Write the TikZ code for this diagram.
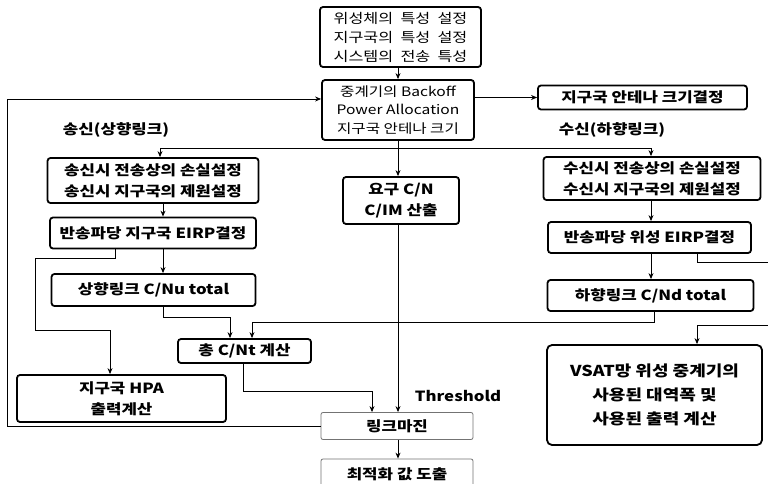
\documentclass[tikz,border=0pt]{standalone}
\usepackage{fontspec}
\setmainfont{Noto Sans CJK KR}[FakeStretch=1.2]
\usetikzlibrary{arrows.meta}
\tikzset{
  box/.style={draw=black, line width=1.8pt, rounded corners=3pt, inner sep=0pt, align=center, font=\fontsize{14}{21}\selectfont\bfseries},
  softbox/.style={draw=black!55, line width=0.8pt, rounded corners=2pt, inner sep=0pt, align=center, font=\fontsize{14}{21}\selectfont\bfseries},
  lbl/.style={inner sep=0pt, font=\fontsize{14}{16}\selectfont\bfseries},
  arr/.style={draw=black, line width=0.9pt, -{Stealth[length=6pt,width=5pt]}},
  ln/.style={draw=black, line width=0.9pt}
}
\begin{document}
\begin{tikzpicture}[x=1pt,y=-1pt]
\useasboundingbox[fill=white] (0,0) rectangle (768,484);
% boxes
\node[box, minimum width=161pt, minimum height=60pt, font=\fontsize{13.5}{19}\selectfont] (top) at (400.5,37) {위성체의\ \ 특성\ \ 설정\\지구국의\ \ 특성\ \ 설정\\시스템의\ \ 전송\ \ 특성};
\node[box, minimum width=152pt, minimum height=60pt, font=\fontsize{13}{18.5}\selectfont] (b2) at (398,110) {중계기의 Backoff\\Power Allocation\\지구국 안테나 크기};
\node[box, minimum width=209pt, minimum height=24pt] (ant) at (642.5,97.5) {지구국 안테나 크기결정};
\node[lbl] (tx) at (116,130) {송신(상향링크)};
\node[lbl] (rx) at (612,130) {수신(하향링크)};
\node[box, minimum width=211pt, minimum height=45pt] (l1) at (153,180.5) {송신시 전송상의 손실설정\\송신시 지구국의 제원설정};
\node[box, minimum width=206pt, minimum height=31pt] (l2) at (153,233) {반송파당 지구국 EIRP결정};
\node[box, minimum width=204pt, minimum height=32pt] (l3) at (153.5,290) {상향링크 C/Nu total};
\node[box, minimum width=116pt, minimum height=47pt] (mid) at (401,200.5) {요구 C/N\\C/IM 산출};
\node[box, minimum width=217pt, minimum height=43pt] (r1) at (652,178.5) {수신시 전송상의 손실설정\\수신시 지구국의 제원설정};
\node[box, minimum width=203pt, minimum height=31pt] (r2) at (649.5,237.5) {반송파당 위성 EIRP결정};
\node[box, minimum width=206pt, minimum height=31pt] (r3) at (650.5,295.5) {하향링크 C/Nd total};
\node[box, minimum width=133pt, minimum height=24pt] (cnt) at (244.5,351) {총 C/Nt 계산};
\node[box, minimum width=209pt, minimum height=47pt] (hpa) at (121.5,398.5) {지구국 HPA\\출력계산};
\node[softbox, minimum width=152pt, minimum height=27pt] (lm) at (397,426) {링크마진};
\node[softbox, minimum width=152pt, minimum height=30pt] (opt) at (397,474) {최적화 값 도출};
\node[box, minimum width=215pt, minimum height=100pt, rounded corners=5pt, font=\fontsize{15}{24}\selectfont\bfseries] (vsat) at (654.5,395) {VSAT망 위성 중계기의\\사용된 대역폭 및\\사용된 출력 계산};
\node[lbl, font=\fontsize{14}{16}\selectfont\bfseries] (thr) at (458,396) {Threshold};
% coordinates
\coordinate (busL) at (160,148);
\coordinate (busR) at (651,148);
\coordinate (fbB) at (7,426);
\coordinate (fbT) at (7,99);
\coordinate (hA) at (115,258);
\coordinate (hB) at (35,330);
\coordinate (hC) at (110,330);
\coordinate (uA) at (163,317);
\coordinate (uB) at (230,317);
\coordinate (dA) at (654,322);
\coordinate (dB) at (252,322);
\coordinate (cA) at (243,391);
\coordinate (cB) at (372,391);
\coordinate (vA) at (697,262);
\coordinate (vB) at (774,262);
\coordinate (vC) at (774,325);
\coordinate (vD) at (697,325);
% connectors
\draw[arr] (top.south -| b2.north) -- (b2.north);
\draw[arr] (b2.east |- ant.west) -- (ant.west);
\draw[arr] (lm.west) -- (fbB) -- (fbT) -- (fbT -| b2.west);
\draw[arr] (b2.south) -- (b2.south |- mid.north);
\draw[arr] (busL -| b2.south) -- (busL) -- (busL |- l1.north);
\draw[arr] (busL -| b2.south) -- (busR) -- (busR |- r1.north);
\draw[arr] (uA |- l1.south) -- (uA |- l2.north);
\draw[arr] (uA |- l2.south) -- (uA |- l3.north);
\draw[arr] (hA |- l2.south) -- (hA) -- (hA -| hB) -- (hB) -- (hC) -- (hC |- hpa.north);
\draw[arr] (uA |- l3.south) -- (uA) -- (uB) -- (uB |- cnt.north);
\draw[arr] (dA |- r3.south) -- (dA) -- (dB) -- (dB |- cnt.north);
\draw[arr] (cA |- cnt.south) -- (cA) -- (cB) -- (cB |- lm.north);
\draw[arr] (mid.south -| b2.south) -- (b2.south |- lm.north);
\draw[arr] (lm.south -| b2.south) -- (b2.south |- opt.north);
\draw[arr] (busR |- r1.south) -- (busR |- r2.north);
\draw[arr] (busR |- r2.south) -- (busR |- r3.north);
\draw[arr] (vA |- r2.south) -- (vA) -- (vB) -- (vC) -- (vD) -- (vD |- vsat.north);
\end{tikzpicture}
\end{document}
